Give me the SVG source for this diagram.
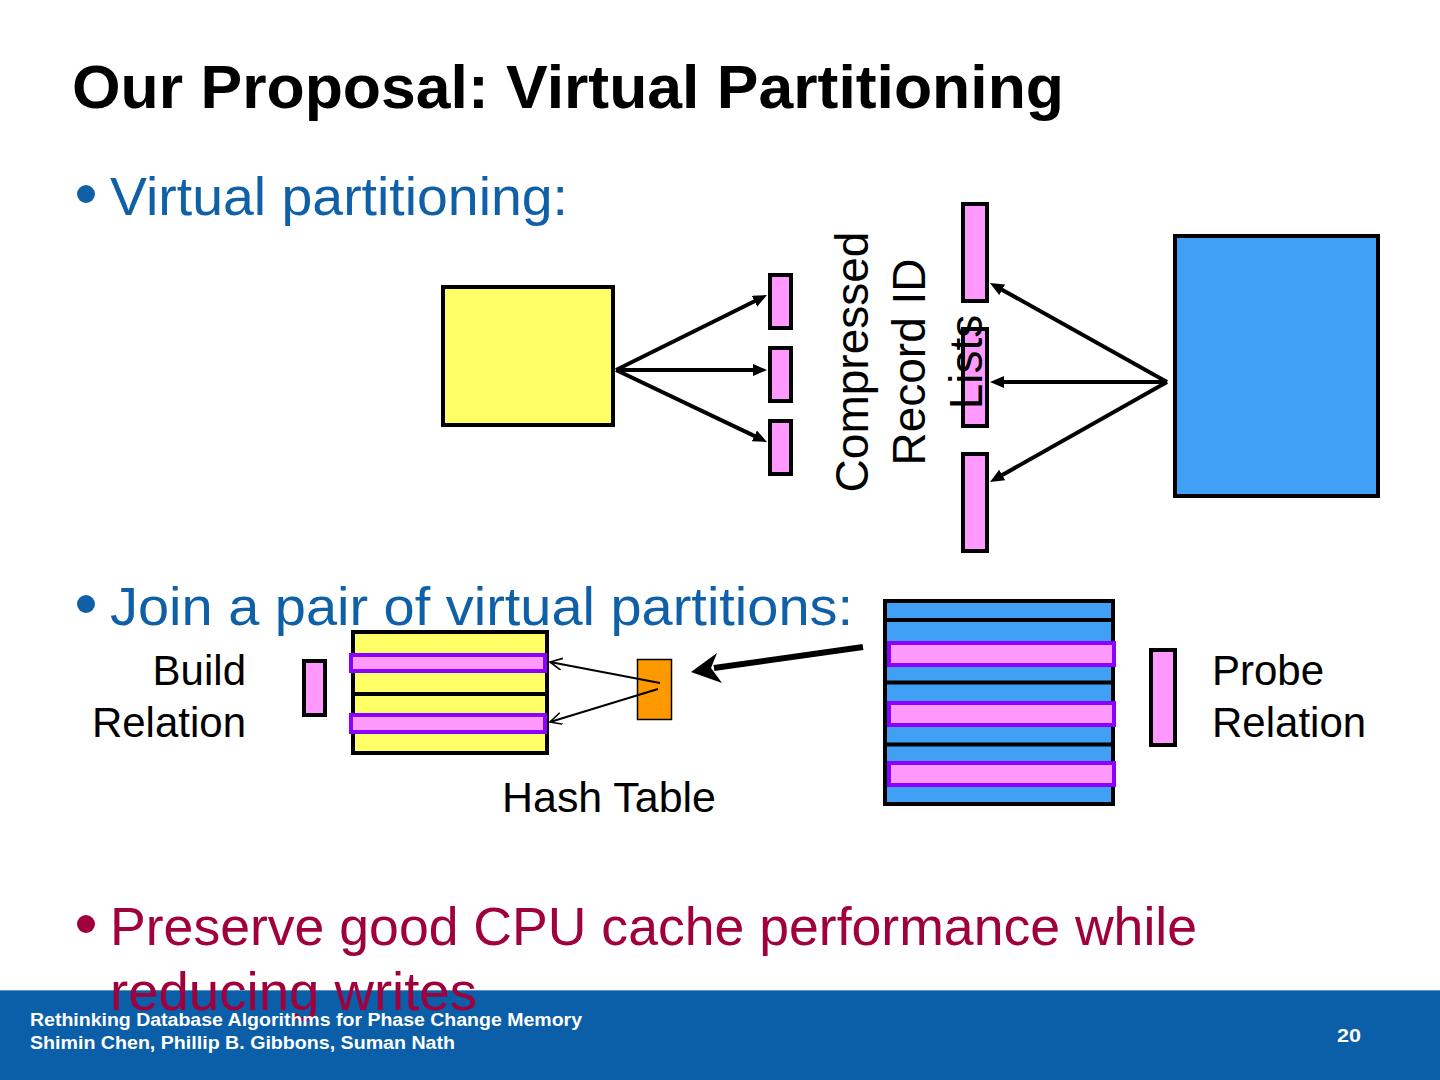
<svg xmlns="http://www.w3.org/2000/svg" width="1440" height="1080" viewBox="0 0 1440 1080">
<style>
.title{font-family:"Liberation Sans",Arial,sans-serif;font-weight:bold;font-size:62px;fill:#000}
.b1{font-family:"Liberation Sans",Arial,sans-serif;font-size:54px;fill:#1060A8}
.b3{font-family:"Liberation Sans",Arial,sans-serif;font-size:54px;fill:#A0003C}
.lbl{font-family:"Liberation Sans",Arial,sans-serif;font-size:42px;fill:#000}
.rot{font-family:"Liberation Sans",Arial,sans-serif;font-size:46px;fill:#000}
.foot{font-family:"Liberation Sans",Arial,sans-serif;font-weight:bold;font-size:18px;fill:#fff}
.pk{fill:#FF99FF;stroke:#000;stroke-width:4}
.hl{fill:#FF99FF;stroke:#8B00FF;stroke-width:4}
.thick{stroke:#000;stroke-width:4;fill:none}
.thin{stroke:#000;stroke-width:2;fill:none}
</style>
<defs>
<marker id="ah" markerUnits="userSpaceOnUse" markerWidth="16" markerHeight="14" refX="8" refY="6" orient="auto">
<path d="M0,0 L14,6 L0,12 z" fill="#000"/>
</marker>
<marker id="ov" markerUnits="userSpaceOnUse" markerWidth="14" markerHeight="14" refX="12" refY="6" orient="auto">
<path d="M0,0 L12,6 L0,12" fill="none" stroke="#000" stroke-width="1.6"/>
</marker>
</defs>
<rect x="0" y="0" width="1440" height="1080" fill="#fff"/>

<text class="title" x="72" y="108" textLength="992" lengthAdjust="spacingAndGlyphs">Our Proposal: Virtual Partitioning</text>

<g id="bullet1">
<circle cx="86" cy="194" r="9" fill="#1060A8"/>
<text class="b1" x="110" y="215" textLength="458" lengthAdjust="spacingAndGlyphs">Virtual partitioning:</text>
</g>

<g id="build-relation-top">
<rect x="443" y="287" width="170" height="138" fill="#FFFF66" stroke="#000" stroke-width="4"/>
</g>
<g id="vp-left">
<rect class="pk" x="770" y="275" width="21" height="53"/>
<rect class="pk" x="770" y="348" width="21" height="53"/>
<rect class="pk" x="770" y="421" width="21" height="53"/>
</g>
<g id="vp-right">
<rect class="pk" x="963" y="204" width="24" height="97"/>
<rect class="pk" x="963" y="329" width="24" height="97"/>
<rect class="pk" x="963" y="454" width="24" height="97"/>
</g>
<g id="probe-relation-top">
<rect x="1175" y="236" width="203" height="260" fill="#40A0F5" stroke="#000" stroke-width="4"/>
</g>
<g id="label-rid">
<text class="rot" transform="translate(868,362) rotate(-90)" text-anchor="middle">Compressed</text>
<text class="rot" transform="translate(925,362) rotate(-90)" text-anchor="middle">Record ID</text>
<text class="rot" transform="translate(982,362) rotate(-90)" text-anchor="middle">Lists</text>
</g>

<g id="bullet2">
<circle cx="86" cy="604" r="9" fill="#1060A8"/>
<text class="b1" x="110" y="625" textLength="743" lengthAdjust="spacingAndGlyphs">Join a pair of virtual partitions:</text>
</g>

<g id="build-label">
<text class="lbl" x="246" y="685" text-anchor="end">Build</text>
<text class="lbl" x="246" y="737" text-anchor="end">Relation</text>
</g>
<g id="build-vp">
<rect class="pk" x="304" y="661" width="21" height="54"/>
</g>
<g id="hash-table">
<rect x="353" y="632" width="194" height="121" fill="#FFFF66" stroke="#000" stroke-width="4"/>
<line x1="353" y1="694" x2="547" y2="694" stroke="#000" stroke-width="4"/>
<rect class="hl" x="351" y="655" width="194" height="16"/>
<rect class="hl" x="351" y="715" width="194" height="17"/>
</g>
<g id="hash-label">
<text class="lbl" x="502" y="812" textLength="214" lengthAdjust="spacingAndGlyphs">Hash Table</text>
</g>
<g id="probe-tuple">
<rect x="637.5" y="659.5" width="34" height="60" fill="#FF9900" stroke="#000" stroke-width="1.5"/>
</g>
<g id="probe-table">
<rect x="885" y="601" width="228" height="203" fill="#40A0F5" stroke="#000" stroke-width="4"/>
<line x1="885" y1="620" x2="1113" y2="620" stroke="#000" stroke-width="4"/>
<line x1="885" y1="682.5" x2="1113" y2="682.5" stroke="#000" stroke-width="4"/>
<line x1="885" y1="744.5" x2="1113" y2="744.5" stroke="#000" stroke-width="4"/>
<rect class="hl" x="889" y="643" width="225" height="22"/>
<rect class="hl" x="889" y="703" width="225" height="22"/>
<rect class="hl" x="889" y="763" width="225" height="22"/>
</g>
<g id="probe-vp">
<rect class="pk" x="1151" y="650" width="24" height="95"/>
</g>
<g id="probe-label">
<text class="lbl" x="1212" y="685">Probe</text>
<text class="lbl" x="1212" y="737">Relation</text>
</g>

<g id="connectors">
<line class="thick" x1="616" y1="370" x2="761.6" y2="297.7" marker-end="url(#ah)"/>
<line class="thick" x1="616" y1="370" x2="761" y2="370" marker-end="url(#ah)"/>
<line class="thick" x1="616" y1="370" x2="761.6" y2="439.4" marker-end="url(#ah)"/>
<line class="thick" x1="1167" y1="382" x2="995.2" y2="285.9" marker-end="url(#ah)"/>
<line class="thick" x1="1167" y1="382" x2="996" y2="382" marker-end="url(#ah)"/>
<line class="thick" x1="1167" y1="382" x2="995.2" y2="479" marker-end="url(#ah)"/>
<line class="thin" x1="660" y1="683" x2="550" y2="662" marker-end="url(#ov)"/>
<line class="thin" x1="658" y1="689" x2="550" y2="722" marker-end="url(#ov)"/>
<line x1="863" y1="647" x2="714" y2="668" stroke="#000" stroke-width="6"/>
<polygon points="691,672 717,653 711,668 722,683" fill="#000"/>
</g>

<rect x="0" y="990" width="1440" height="90" fill="#0B5EA8"/>
<line x1="0" y1="990.5" x2="1440" y2="990.5" stroke="#5A93CC" stroke-width="1"/>

<g id="bullet3">
<circle cx="86" cy="924" r="9" fill="#A0003C"/>
<text class="b3" x="110" y="945" textLength="1087" lengthAdjust="spacingAndGlyphs">Preserve good CPU cache performance while</text>
<text class="b3" x="110" y="1010" textLength="367" lengthAdjust="spacingAndGlyphs">reducing writes</text>
</g>

<g id="footer">
<text class="foot" x="30" y="1026" textLength="552" lengthAdjust="spacingAndGlyphs">Rethinking Database Algorithms for Phase Change Memory</text>
<text class="foot" x="30" y="1049" textLength="425" lengthAdjust="spacingAndGlyphs">Shimin Chen, Phillip B. Gibbons, Suman Nath</text>
<text class="foot" x="1337" y="1042" font-size="19" textLength="24" lengthAdjust="spacingAndGlyphs">20</text>
</g>
</svg>
